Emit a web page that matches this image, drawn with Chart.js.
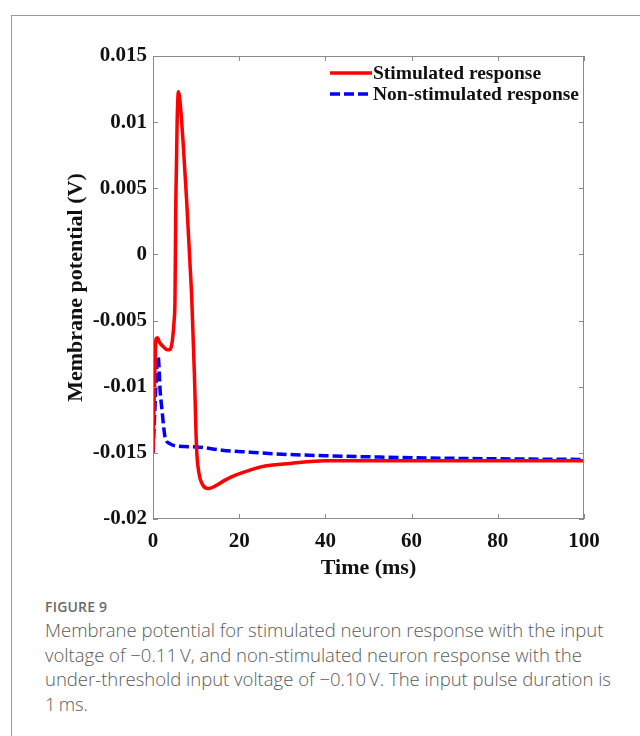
<!DOCTYPE html>
<html lang="en">
<head>
  <meta charset="UTF-8" />
  <title>Figure 9</title>
  <script src="https://cdn.jsdelivr.net/npm/chart.js"></script>
  <style>
    body { margin: 0; background: #fff; width: 640px; height: 736px; overflow: hidden; position: relative; }
    .frame { position: absolute; left: 11px; top: 15px; width: 700px; height: 800px; border-left: 1px solid #9a9a9a; border-top: 1px solid #9a9a9a; }
    #wrap { position: absolute; left: 0; top: 0; width: 640px; height: 590px; }
    .fig-no { position: absolute; left: 45px; top: 597px; font: 600 14px "Open Sans", sans-serif; color: #6a6a6a; letter-spacing: 0.2px; }
    .caption { position: absolute; left: 45px; top: 618px; width: 580px; font: 300 18.5px/24.5px "Open Sans", sans-serif; color: #5a5a5a; }
    .nw { white-space: nowrap; }
  </style>
</head>
<body>
<div class="frame"></div>
<div id="wrap"><canvas id="grafik"></canvas></div>
<div class="fig-no">FIGURE 9</div>
<div class="caption">Membrane potential for stimulated neuron response with the input voltage of &minus;0.11&#8201;V, and non-stimulated neuron response with the <span class="nw">under-threshold</span> input voltage of &minus;0.10&#8201;V. The input pulse duration is 1&#8201;ms.</div>
<script>
  // values (time in ms, potential in V)
  const stimTime = [0, 0.3, 0.7, 1.0, 1.6, 2.5, 3.3, 3.9, 4.3, 4.6, 4.9, 5.1, 5.3, 5.6, 5.9, 6.2, 7.0, 7.8, 8.5, 9.0, 9.6, 10.1, 10.7, 11.5, 12.8, 14.5, 16.5, 19, 22.5, 26, 31.8, 40, 50, 60, 80, 100];
  const stimVolt = [-0.0150, -0.0105, -0.0064, -0.0063, -0.0067, -0.0070, -0.0072, -0.0072, -0.0069, -0.0062, -0.0050, -0.0034, 0.0041, 0.0100, 0.0123, 0.0118, 0.0084, 0.0041, -0.0002, -0.0034, -0.0090, -0.0146, -0.0166, -0.0174, -0.0177, -0.0175, -0.0171, -0.0167, -0.0163, -0.0160, -0.0158, -0.0156, -0.0156, -0.0156, -0.0156, -0.0156];

  const restTime = [0, 0.4, 0.8, 1.2, 1.4, 1.6, 2.1, 2.8, 3.9, 6, 10, 16, 22.5, 30, 40, 50, 60, 80, 100];
  const restVolt = [-0.0150, -0.0120, -0.0090, -0.0077, -0.0085, -0.0100, -0.0118, -0.0138, -0.0143, -0.0145, -0.01455, -0.0148, -0.01495, -0.0151, -0.01522, -0.0153, -0.01537, -0.01545, -0.0155];

  const xTicks = [0, 20, 40, 60, 80, 100];
  const yTicks = [-0.02, -0.015, -0.01, -0.005, 0, 0.005, 0.01, 0.015];
  const seriesNames = ['Stimulated response', 'Non-stimulated response'];

  const serif = '"Liberation Serif", "Times New Roman", serif';

  function pairs(xs, ys) {
    return xs.map((x, i) => ({ x: x, y: ys[i] }));
  }

  function yLabel(v) {
    if (Math.abs(v) < 1e-12) return '0';
    return String(+v.toFixed(3));
  }

  // frame, inward ticks and legend inside the axes (MATLAB look)
  const matlabAxes = {
    id: 'matlabAxes',
    afterDatasetsDraw(chart) {
      const { ctx, chartArea: a, scales } = chart;
      ctx.save();
      ctx.strokeStyle = '#8a8a8a';
      ctx.lineWidth = 1;
      ctx.strokeRect(a.left + 0.5, a.top + 0.5, a.right - a.left - 1, a.bottom - a.top - 1);
      ctx.beginPath();
      xTicks.forEach(t => {
        const px = Math.round(scales.x.getPixelForValue(t)) + 0.5;
        ctx.moveTo(px, a.bottom); ctx.lineTo(px, a.bottom - 5);
        ctx.moveTo(px, a.top); ctx.lineTo(px, a.top + 5);
      });
      yTicks.forEach(t => {
        const py = Math.round(scales.y.getPixelForValue(t)) + 0.5;
        ctx.moveTo(a.left, py); ctx.lineTo(a.left + 5, py);
        ctx.moveTo(a.right, py); ctx.lineTo(a.right - 5, py);
      });
      ctx.stroke();

      // legend
      const lx = a.left + 177, ly = a.top + 17, rowH = 21;
      chart.data.datasets.forEach((ds, i) => {
        const y = ly + i * rowH;
        ctx.strokeStyle = ds.borderColor;
        ctx.lineWidth = ds.borderWidth;
        ctx.setLineDash(ds.borderDash || []);
        ctx.beginPath();
        ctx.moveTo(lx, y); ctx.lineTo(lx + 42, y);
        ctx.stroke();
        ctx.setLineDash([]);
        ctx.fillStyle = '#111';
        ctx.font = 'bold 19.5px ' + serif;
        ctx.textBaseline = 'middle';
        ctx.textAlign = 'left';
        ctx.fillText(ds.label, lx + 43, y + 1);
      });
      ctx.restore();
    }
  };

  const ctx = document.getElementById('grafik').getContext('2d');
  const myChart = new Chart(ctx, {
    type: 'scatter',
    data: {
      datasets: [{
        label: seriesNames[0],
        data: pairs(stimTime, stimVolt),
        showLine: true,
        borderColor: '#ff0000',
        borderWidth: 3.5,
        pointRadius: 0,
        cubicInterpolationMode: 'monotone'
      }, {
        label: seriesNames[1],
        data: pairs(restTime, restVolt),
        showLine: true,
        borderColor: '#0000ff',
        borderWidth: 3.5,
        borderDash: [10, 4],
        pointRadius: 0,
        cubicInterpolationMode: 'monotone'
      }]
    },
    options: {
      responsive: true,
      maintainAspectRatio: false,
      animation: false,
      events: [],
      layout: { padding: { left: 59, top: 56, right: 56, bottom: 8 } },
      plugins: { legend: { display: false }, tooltip: { enabled: false } },
      scales: {
        x: {
          type: 'linear',
          min: 0, max: 100,
          afterBuildTicks: s => { s.ticks = xTicks.map(v => ({ value: v })); },
          afterFit: s => { s.height = 63; },
          grid: { display: false, drawTicks: false },
          border: { display: false },
          ticks: { color: '#111', padding: 10, maxRotation: 0, font: { family: serif, size: 21, weight: 'bold' } },
          title: { display: true, text: 'Time (ms)', color: '#111', padding: { top: 2, bottom: 0 }, font: { family: serif, size: 22, weight: 'bold' } }
        },
        y: {
          type: 'linear',
          min: -0.02, max: 0.015,
          afterBuildTicks: s => { s.ticks = yTicks.map(v => ({ value: v })); },
          afterFit: s => { s.width = 94; },
          grid: { display: false, drawTicks: false },
          border: { display: false },
          ticks: { color: '#111', padding: 6, callback: v => yLabel(v), font: { family: serif, size: 21, weight: 'bold' } },
          title: { display: true, text: 'Membrane potential (V)', color: '#111', padding: { top: 4, bottom: 0 }, font: { family: serif, size: 22, weight: 'bold' } }
        }
      }
    },
    plugins: [matlabAxes]
  });
</script>
</body>
</html>
